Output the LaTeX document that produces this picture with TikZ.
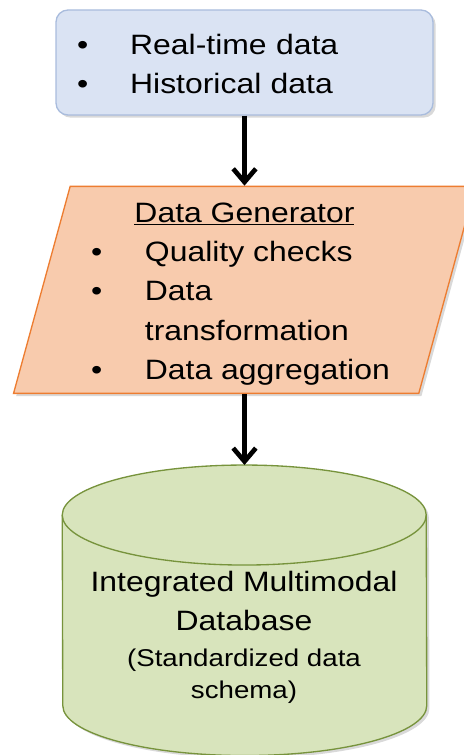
\documentclass[tikz,border=0pt]{standalone}
\usepackage{fontspec}
\setmainfont{Liberation Sans}[FakeStretch=1.14]
\usepackage{xcolor}
\definecolor{colorSource}{HTML}{DAE3F3}
\definecolor{colorSourceLine}{HTML}{A9BCDD}
\definecolor{colorGen}{HTML}{F8CBAD}
\definecolor{colorGenLine}{HTML}{ED7D31}
\definecolor{colorDb}{HTML}{D8E4BC}
\definecolor{colorDbLine}{HTML}{77933C}
\usetikzlibrary{arrows.meta, positioning, shapes.geometric, shadows}
\tikzset{
  shade box/.style={drop shadow={opacity=0.3, shadow xshift=2pt, shadow yshift=-2pt}},
  flow/.style={-{Straight Barb[length=10pt, width=17pt]}, line width=3.5pt},
}
\newcommand{\bigtext}{\fontsize{21}{29.5}\selectfont}
\newcommand{\smalltext}{\fontsize{18.2}{24}\selectfont}

\begin{document}
\begin{tikzpicture}[x=0.75pt, y=0.75pt, every node/.style={font=\bigtext}]
\useasboundingbox (0,0) rectangle (463,-755);
\node[shade box, draw=colorSourceLine, fill=colorSource, line width=1pt, rounded corners=9pt, minimum width=282.75pt, minimum height=78.75pt, text width=251.25pt, inner xsep=15.75pt, align=left] (src) at (244.5,-62.5) {\raisebox{-2.5pt}[\height][\depth]{\begin{tabular}{@{}l@{\hspace{31.5pt}}l@{}}\textbullet & Real-time data\\ \textbullet & Historical data\end{tabular}}};
\node[shade box, trapezium, trapezium left angle=76, trapezium right angle=104, trapezium stretches=true, draw=colorGenLine, fill=colorGen, line width=1pt, minimum width=348pt, minimum height=155.25pt, below=52.5pt of src] (gen) {\raisebox{-2.25pt}[\height][\depth]{\begin{tabular}{@{}l@{\hspace{32pt}}l@{\hspace{6pt}}}\multicolumn{2}{c}{\underline{Data Generator}}\\ \textbullet & Quality checks\\ \textbullet & Data\\ & transformation\\ \textbullet & Data aggregation\end{tabular}}};
% database: cylinder drawn on an empty node
\node[inner sep=0pt, minimum width=273pt, minimum height=217.5pt, below=53.25pt of gen] (db) {};
\draw[shade box, draw=colorDbLine, fill=colorDb, line width=1pt] ([yshift=-37.5pt]db.north west) arc[start angle=180, end angle=0, x radius=136.5pt, y radius=37.5pt] -- ([yshift=37.5pt]db.south east) arc[start angle=0, end angle=-180, x radius=136.5pt, y radius=37.5pt] -- cycle;
\draw[draw=colorDbLine, line width=1pt] ([yshift=-37.5pt]db.north west) arc[start angle=180, end angle=360, x radius=136.5pt, y radius=37.5pt];
\node[inner sep=0pt, align=center] (dbtitle) at (244,-601) {Integrated Multimodal\\Database};
\node[inner sep=0pt, align=center, font=\smalltext, below=12.75pt of dbtitle] (dbnote) {(Standardized data\\schema)};
\draw[flow] (src.south) -- (gen.north);
\draw[flow] (gen.south) -- (db.north);
\end{tikzpicture}
\end{document}
